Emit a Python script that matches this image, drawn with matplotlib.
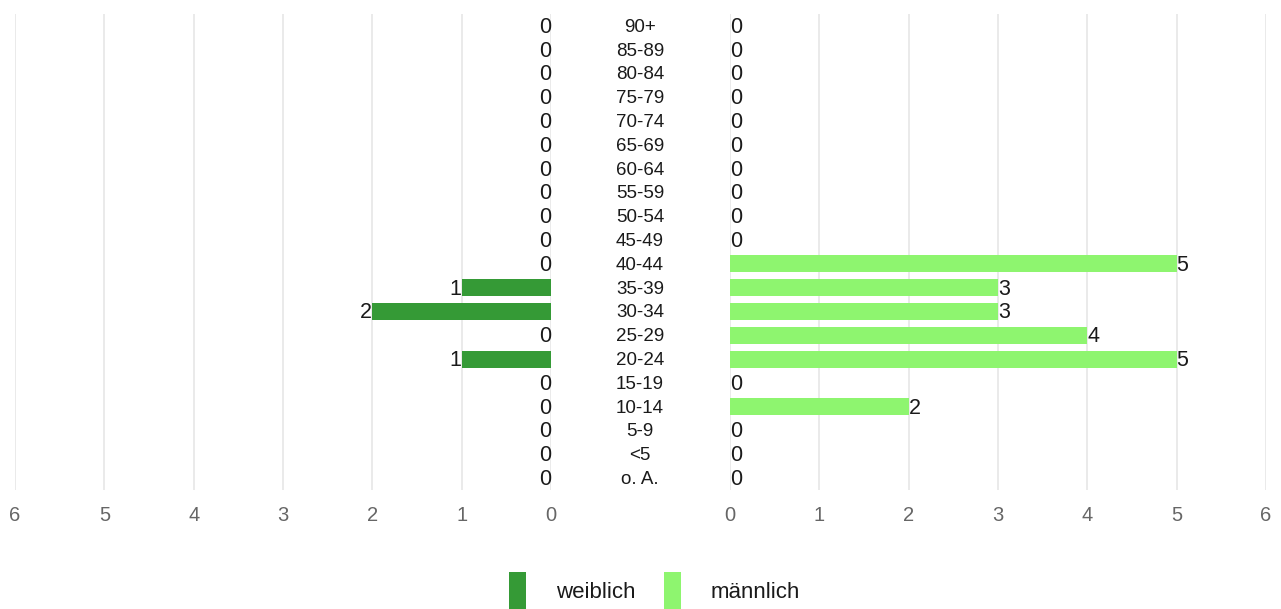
import matplotlib
matplotlib.use("Agg")
import matplotlib.pyplot as plt
from matplotlib.patches import Rectangle
import matplotlib.transforms as mtransforms

plt.rcParams['font.family'] = ['Liberation Sans', 'DejaVu Sans']

age_groups = ["90+", "85-89", "80-84", "75-79", "70-74", "65-69", "60-64", "55-59",
              "50-54", "45-49", "40-44", "35-39", "30-34", "25-29", "20-24", "15-19",
              "10-14", "5-9", "<5", "o. A."]
weiblich = [0, 0, 0, 0, 0, 0, 0, 0, 0, 0, 0, 1, 2, 0, 1, 0, 0, 0, 0, 0]
maennlich = [0, 0, 0, 0, 0, 0, 0, 0, 0, 0, 5, 3, 3, 4, 5, 0, 2, 0, 0, 0]
ticks = [0, 1, 2, 3, 4, 5, 6]

col_w = '#359a36'
col_m = '#8ef56f'
grid_c = '#e6e6e6'
tick_c = '#666666'

W, H = 1281, 609
fig = plt.figure(figsize=(W / 100, H / 100), dpi=100)

bottom = 1 - 490 / H
top = 1 - 14 / H
axL = fig.add_axes([15 / W, bottom, (551 - 15) / W, top - bottom])
axR = fig.add_axes([730 / W, bottom, (1266 - 730) / W, top - bottom])

n = len(age_groups)
ypos = list(range(n))

for ax, vals, col, inv in [(axL, weiblich, col_w, True), (axR, maennlich, col_m, False)]:
    ax.barh(ypos, vals, height=0.72, color=col, zorder=2)
    ax.set_xlim(6, 0) if inv else ax.set_xlim(0, 6)
    ax.set_ylim(n - 0.5, -0.5)
    ax.set_xticks(ticks)
    ax.set_xticklabels([str(t) for t in ticks], fontsize=14.5, color=tick_c)
    ax.tick_params(axis='x', length=0, pad=11.5)
    ax.set_yticks([])
    for s in ax.spines.values():
        s.set_visible(False)
    ax.grid(axis='x', color=grid_c, linewidth=1.2, zorder=0)
    for y, v in zip(ypos, vals):
        ax.text(v, y + 0.06, str(v), ha='right' if inv else 'left', va='center',
                fontsize=15.5, color='#1a1a1a')

trans = mtransforms.blended_transform_factory(fig.transFigure, axL.transData)
for y, lab in zip(ypos, age_groups):
    axL.text(640 / W, y + 0.06, lab, transform=trans, ha='center', va='center',
             fontsize=13.5, color='#1a1a1a', clip_on=False)

# legend
for x0, col, lab, tx in [(509, col_w, "weiblich", 556), (664, col_m, "männlich", 711)]:
    fig.patches.append(Rectangle((x0 / W, 0), 17 / W, 37 / H, transform=fig.transFigure,
                                 facecolor=col, edgecolor='none'))
    fig.text(tx / W, 1 - 593 / H, lab, ha='left', va='center', fontsize=16, color='#1a1a1a')

fig.savefig("out.png", dpi=100)
